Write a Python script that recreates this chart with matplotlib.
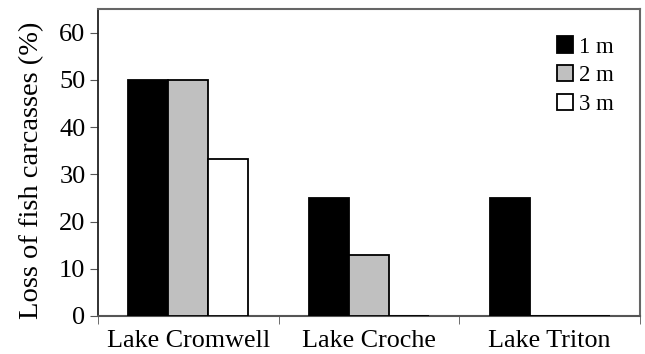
import matplotlib
matplotlib.use("Agg")
import matplotlib.pyplot as plt
import numpy as np

lakes = ["Lake Cromwell", "Lake Croche", "Lake Triton"]
depths = ["1 m", "2 m", "3 m"]
loss_1m = [50, 25, 25]
loss_2m = [50, 13, 0]
loss_3m = [33.3, 0, 0]
colors = ["#000000", "#c0c0c0", "#ffffff"]

plt.rcParams['font.family'] = ['Liberation Serif', 'DejaVu Serif']

fig = plt.figure(figsize=(6.45, 3.54), dpi=100)
ax = fig.add_axes([98/645, 1 - 316/354, 542/645, 307/354])

x = np.arange(len(lakes))
w = 0.222
series = [loss_1m, loss_2m, loss_3m]
for i, (vals, c, lab) in enumerate(zip(series, colors, depths)):
    ax.bar(x + (i - 1) * w, vals, width=w, color=c, edgecolor="black",
           linewidth=1.3, label=lab, zorder=3)

ax.set_xlim(-0.5, 2.5)
ax.set_ylim(0, 65)
ax.set_yticks(range(0, 61, 10))
ax.set_xticks(x)
ax.set_xticklabels(lakes, fontsize=18.8)
ax.tick_params(axis='x', length=0, pad=10)
ax.set_xticks([-0.5, 0.5, 1.5, 2.5], minor=True)
ax.tick_params(axis='x', which='minor', length=6, direction='out', color='#555555')
ax.tick_params(axis='y', labelsize=19, length=6, direction='out', color='#555555', pad=3)
for s in ['top', 'right']:
    ax.spines[s].set_color('#666666')
    ax.spines[s].set_linewidth(1.5)
ax.spines['left'].set_color('#222222')
ax.spines['left'].set_linewidth(1.3)
ax.spines['bottom'].set_color('#555555')
ax.spines['bottom'].set_linewidth(1.5)

ax.set_ylabel("Loss of fish carcasses (%)", fontsize=20.5)
ax.yaxis.set_label_coords(-0.1, 0.475)

leg = ax.legend(loc='upper right', frameon=False, fontsize=16.5,
                handlelength=0.72, handleheight=0.72, handletextpad=0.25,
                labelspacing=0.33, bbox_to_anchor=(0.99, 0.978))

fig.savefig("out.png", dpi=100)
